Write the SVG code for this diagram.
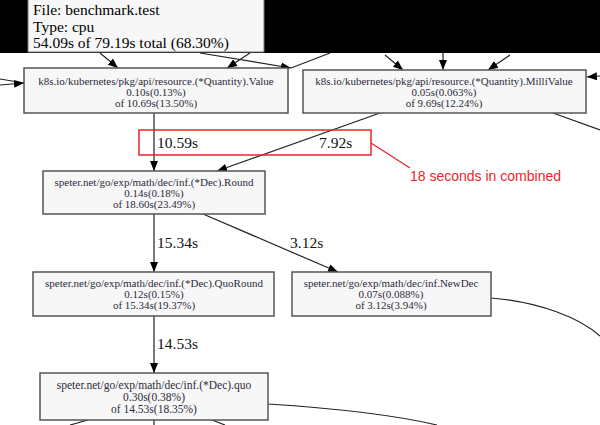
<svg xmlns="http://www.w3.org/2000/svg" width="600" height="425" viewBox="0 0 600 425">
<defs>
<marker id="ah" viewBox="0 0 10 10" refX="10" refY="5" markerWidth="10" markerHeight="10" markerUnits="userSpaceOnUse" orient="auto">
<path d="M0,1 L10,5 L0,9 Z" fill="#000"/>
</marker>
</defs>
<style>
.node rect{fill:#f7f7f7;stroke:#555;stroke-width:1.5}
.node text{font-family:"Liberation Serif",serif;font-size:11px;fill:#2b2b3b;text-anchor:middle}
.edge{fill:none;stroke:#222;stroke-width:1.2}
.arr{marker-end:url(#ah)}
.lbl{font-family:"Liberation Serif",serif;font-size:15.5px;fill:#111}
.info text{font-family:"Liberation Serif",serif;font-size:15.5px;fill:#000}
</style>
<rect width="600" height="425" fill="#fff"/>
<rect x="0" y="0" width="600" height="53" fill="#000"/>
<g id="info" class="info">
<rect x="28" y="-1" width="236" height="53" fill="#f7f7f7" stroke="#777" stroke-width="1"/>
<text x="33" y="15">File: benchmark.test</text>
<text x="33" y="31.5">Type: cpu</text>
<text x="33" y="48">54.09s of 79.19s total (68.30%)</text>
</g>
<g id="connectors">
<path class="edge arr" d="M100,53 L118,68"/>
<path class="edge arr" d="M250,53 L227,68"/>
<path class="edge arr" d="M200,53 L291,68"/>
<path class="edge" d="M330,53 L291,68"/>
<path class="edge arr" d="M385,55 L403,70"/>
<path class="edge arr" d="M443,53 L443,70"/>
<path class="edge arr" d="M510,55 L488,70"/>
<path class="edge arr" d="M600,76 L587,77"/>
<path class="edge" d="M0,79 L24,83"/>
<path class="edge arr" d="M0,85 L24,83"/>
<path class="edge arr" d="M154,113 L154,171"/>
<path class="edge arr" d="M380,113 L217,171"/>
<path class="edge" d="M553,113 L600,130"/>
<path class="edge arr" d="M154,214 L154,272"/>
<path class="edge arr" d="M203,214 L338,272"/>
<path class="edge" d="M491,298 C540,302 580,318 600,336"/>
<path class="edge arr" d="M154,316 L154,373"/>
<path class="edge" d="M268,404 C330,408 390,414 437,425"/>
<path class="edge" d="M88,420 L70,425"/>
<path class="edge" d="M154,420 L154,425"/>
<path class="edge" d="M212,420 L225,425"/>
</g>
<g id="labels">
<text class="lbl" x="157" y="148">10.59s</text>
<text class="lbl" x="319" y="148">7.92s</text>
<text class="lbl" x="157" y="248">15.34s</text>
<text class="lbl" x="290" y="248">3.12s</text>
<text class="lbl" x="157" y="349">14.53s</text>
</g>
<g id="n-value" class="node">
<rect x="24" y="68" width="264" height="45"/>
<text x="156" y="85">k8s.io/kubernetes/pkg/api/resource.(*Quantity).Value</text>
<text x="156" y="96">0.10s(0.13%)</text>
<text x="156" y="107">of 10.69s(13.50%)</text>
</g>
<g id="n-millivalue" class="node">
<rect x="303" y="70" width="283" height="43"/>
<text x="444" y="85">k8s.io/kubernetes/pkg/api/resource.(*Quantity).MilliValue</text>
<text x="444" y="96">0.05s(0.063%)</text>
<text x="444" y="107">of 9.69s(12.24%)</text>
</g>
<g id="n-round" class="node">
<rect x="43" y="171" width="222" height="43"/>
<text x="154" y="186">speter.net/go/exp/math/dec/inf.(*Dec).Round</text>
<text x="154" y="197">0.14s(0.18%)</text>
<text x="154" y="208">of 18.60s(23.49%)</text>
</g>
<g id="n-quoround" class="node">
<rect x="33" y="272" width="241" height="44"/>
<text x="154" y="287">speter.net/go/exp/math/dec/inf.(*Dec).QuoRound</text>
<text x="154" y="298">0.12s(0.15%)</text>
<text x="154" y="309">of 15.34s(19.37%)</text>
</g>
<g id="n-newdec" class="node">
<rect x="292" y="272" width="199" height="44"/>
<text x="391" y="287">speter.net/go/exp/math/dec/inf.NewDec</text>
<text x="391" y="298">0.07s(0.088%)</text>
<text x="391" y="309">of 3.12s(3.94%)</text>
</g>
<g id="n-quo" class="node">
<rect x="40" y="373" width="228" height="47"/>
<text x="154" y="389" style="font-size:11.5px">speter.net/go/exp/math/dec/inf.(*Dec).quo</text>
<text x="154" y="401" style="font-size:11.5px">0.30s(0.38%)</text>
<text x="154" y="413" style="font-size:11.5px">of 14.53s(18.35%)</text>
</g>
<g id="annotation">
<rect x="139" y="130" width="232" height="25" fill="none" stroke="#e8262b" stroke-width="1.5"/>
<path d="M371,143 L410,168" stroke="#e8262b" stroke-width="1.3" fill="none"/>
<text x="410" y="181" font-family="Liberation Sans, Arial, sans-serif" font-size="14" fill="#e8262b">18 seconds in combined</text>
</g>
</svg>
